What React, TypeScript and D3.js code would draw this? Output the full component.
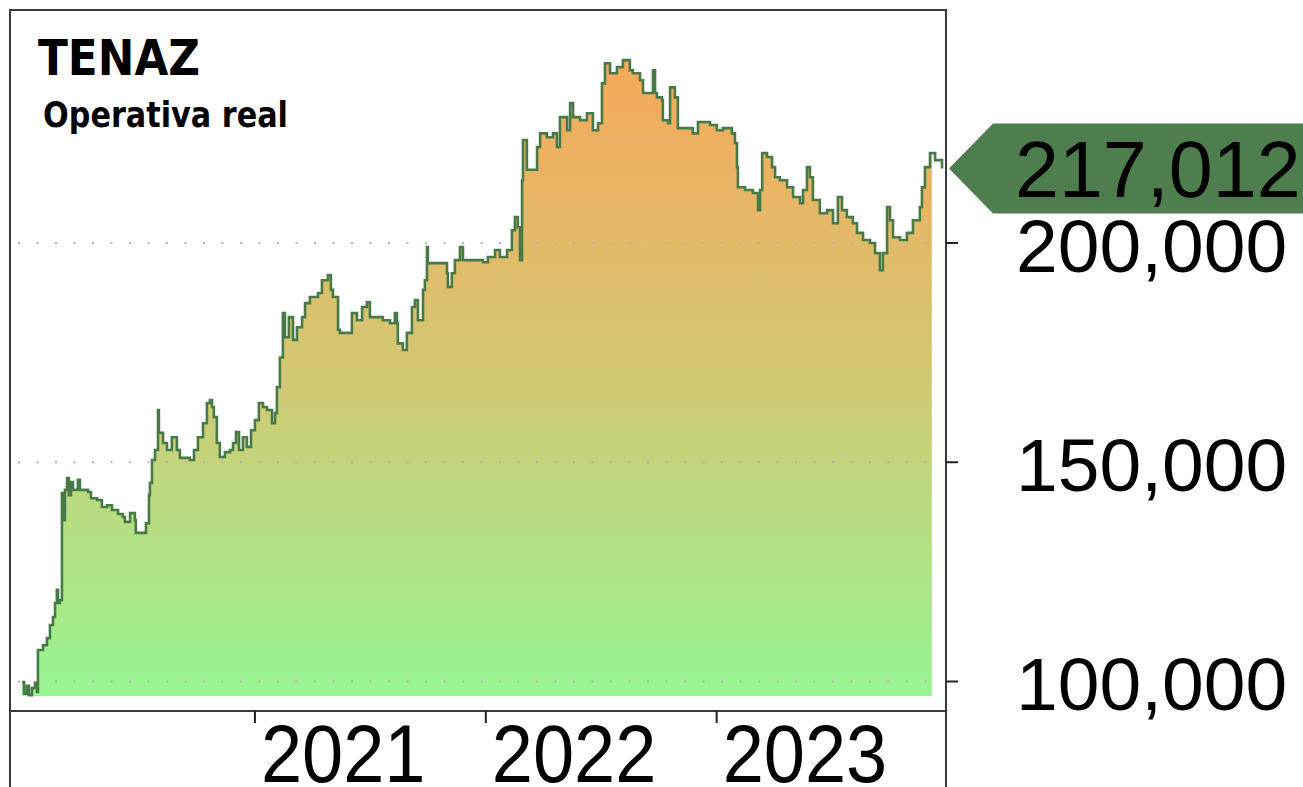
import React from "react";
import * as d3 from "d3";

// Equity curve: time in fractional years, value in account currency
const years = [
  2019.991, 2020.0, 2020.012, 2020.021, 2020.034, 2020.047, 2020.056, 2020.06, 2020.082, 2020.099,
  2020.112, 2020.125, 2020.134, 2020.142, 2020.147, 2020.155, 2020.164, 2020.168, 2020.177, 2020.186,
  2020.194, 2020.203, 2020.212, 2020.233, 2020.242, 2020.277, 2020.29, 2020.316, 2020.337, 2020.359,
  2020.381, 2020.407, 2020.428, 2020.437, 2020.459, 2020.48, 2020.484, 2020.515, 2020.528, 2020.541,
  2020.545, 2020.554, 2020.567, 2020.58, 2020.584, 2020.602, 2020.619, 2020.64, 2020.662, 2020.675,
  2020.718, 2020.736, 2020.753, 2020.775, 2020.792, 2020.805, 2020.814, 2020.822, 2020.835, 2020.848,
  2020.87, 2020.892, 2020.905, 2020.918, 2020.931, 2020.948, 2020.965, 2020.983, 2021.0, 2021.017,
  2021.035, 2021.052, 2021.074, 2021.087, 2021.095, 2021.108, 2021.121, 2021.13, 2021.147, 2021.165,
  2021.182, 2021.204, 2021.217, 2021.238, 2021.273, 2021.29, 2021.316, 2021.329, 2021.338, 2021.36,
  2021.368, 2021.412, 2021.42, 2021.442, 2021.464, 2021.485, 2021.498, 2021.528, 2021.554, 2021.585,
  2021.606, 2021.615, 2021.619, 2021.641, 2021.658, 2021.68, 2021.693, 2021.706, 2021.723, 2021.728,
  2021.736, 2021.745, 2021.749, 2021.771, 2021.801, 2021.832, 2021.836, 2021.853, 2021.866, 2021.888,
  2021.901, 2021.918, 2021.988, 2022.009, 2022.04, 2022.061, 2022.092, 2022.113, 2022.126, 2022.139,
  2022.148, 2022.157, 2022.161, 2022.178, 2022.204, 2022.222, 2022.235, 2022.265, 2022.291, 2022.308,
  2022.321, 2022.352, 2022.365, 2022.378, 2022.408, 2022.438, 2022.464, 2022.486, 2022.503, 2022.516,
  2022.538, 2022.568, 2022.594, 2022.624, 2022.637, 2022.668, 2022.681, 2022.711, 2022.724, 2022.733,
  2022.741, 2022.763, 2022.767, 2022.789, 2022.798, 2022.819, 2022.832, 2022.884, 2022.897, 2022.919,
  2022.971, 2023.001, 2023.027, 2023.066, 2023.079, 2023.088, 2023.092, 2023.123, 2023.157, 2023.179,
  2023.188, 2023.197, 2023.218, 2023.24, 2023.253, 2023.274, 2023.305, 2023.331, 2023.361, 2023.374,
  2023.391, 2023.404, 2023.417, 2023.447, 2023.478, 2023.504, 2023.525, 2023.543, 2023.564, 2023.59,
  2023.608, 2023.634, 2023.664, 2023.686, 2023.707, 2023.72, 2023.738, 2023.751, 2023.764, 2023.794,
  2023.824, 2023.85, 2023.88, 2023.889, 2023.902, 2023.924, 2023.946, 2023.976,
];
const equity = [
  99900, 97200, 99000, 96900, 98500, 99700, 97600, 107200, 108300, 109900,
  112900, 114700, 117900, 120900, 117900, 118600, 143000, 136800, 143700, 146400,
  142500, 145500, 143700, 146000, 143700, 143200, 141800, 141400, 139800, 140200,
  139100, 138200, 137500, 136400, 138400, 136800, 133900, 133900, 136100, 142500,
  145300, 150500, 152800, 161900, 156700, 154400, 152800, 155700, 152800, 151000,
  150500, 152800, 155700, 158900, 163500, 164200, 162600, 160300, 154400, 151200,
  152300, 152800, 154400, 156900, 152800, 155700, 153500, 157300, 159600, 163500,
  162600, 161900, 158900, 161200, 167100, 173900, 184000, 178500, 183100, 177900,
  180800, 183100, 186300, 187700, 188600, 191500, 192700, 189300, 187700, 180200,
  179500, 179500, 184000, 182400, 185400, 186500, 183100, 183100, 182400, 181700,
  184000, 181700, 177100, 175600, 179500, 185400, 187000, 182400, 182400, 189300,
  191500, 199100, 195400, 195400, 195400, 193100, 190000, 193100, 196100, 199100,
  196100, 196100, 195600, 196800, 198400, 196800, 198400, 202900, 205900, 203600,
  196100, 214300, 223500, 216700, 216700, 221900, 225000, 224100, 225000, 221900,
  228700, 225700, 231900, 228700, 228000, 229600, 225700, 227300, 236400, 241000,
  238700, 240100, 241700, 239400, 238700, 237100, 234200, 234200, 239400, 234200,
  233200, 232600, 228000, 227300, 235500, 233200, 226200, 226200, 225000, 227600,
  226900, 225700, 226200, 225000, 222800, 217300, 212700, 212100, 211400, 207500,
  212100, 220500, 219600, 217300, 215000, 214300, 212700, 210500, 209100, 212100,
  217300, 215000, 209800, 206800, 207500, 204500, 210500, 207500, 205900, 204500,
  202300, 200700, 200000, 197700, 193800, 197700, 208200, 205200, 201300, 200700,
  202300, 205200, 208200, 212700, 217300, 220500, 218900, 217012,
];

const yTicks = [100000, 150000, 200000];
const xTicks = [2021, 2022, 2023];
const title = "TENAZ";
const subtitle = "Operativa real";
const fillEndYear = 2023.932;
const fillBaseValue = 96700;

type Pt = { t: number; v: number };

export default function App() {
  const W = 1303;
  const H = 787;
  const plot = { left: 10, top: 10, right: 946, bottom: 711 };

  const x = d3.scaleLinear().domain([2019.991, 2023.976]).range([22, 942]);
  const y = d3.scaleLinear().domain([100000, 200000]).range([681.5, 243]);

  const pts: Pt[] = years.map((t, i) => ({ t, v: equity[i] }));
  const fillPts: Pt[] = pts.filter((p) => p.t <= fillEndYear);
  fillPts.push({ t: fillEndYear, v: fillPts[fillPts.length - 1].v });

  const line = d3
    .line<Pt>()
    .x((d) => x(d.t))
    .y((d) => y(d.v))
    .curve(d3.curveStepAfter);
  const area = d3
    .area<Pt>()
    .x((d) => x(d.t))
    .y0(y(fillBaseValue))
    .y1((d) => y(d.v))
    .curve(d3.curveStepAfter);

  const maxV = d3.max(equity) as number;
  const last = pts[pts.length - 1];
  const ly = y(last.v);
  const fmt = d3.format(",");

  const axisFont = "'Liberation Sans', Arial, sans-serif";
  const titleFont = "'DejaVu Sans', Verdana, sans-serif";

  return (
    <div style={{ position: "absolute", left: 0, top: 0 }}>
      <svg width={W} height={H} style={{ display: "block", background: "#fff" }}>
        <defs>
          <linearGradient
            id="eqGrad"
            gradientUnits="userSpaceOnUse"
            x1={0}
            x2={0}
            y1={y(maxV)}
            y2={y(fillBaseValue)}
          >
            <stop offset="0%" stopColor="#f7a85a" />
            <stop offset="50%" stopColor="#d2c874" />
            <stop offset="100%" stopColor="#97f592" />
          </linearGradient>
        </defs>

        <path d={area(fillPts) || ""} fill="url(#eqGrad)" stroke="none" />

        {yTicks.map((v) => (
          <line
            key={"g" + v}
            x1={18}
            x2={x(fillEndYear)}
            y1={y(v)}
            y2={y(v)}
            stroke="#b4b4b4"
            strokeWidth={2}
            strokeDasharray="2,16.5"
          />
        ))}

        <path d={line(pts) || ""} fill="none" stroke="#477a47" strokeWidth={2.6} strokeLinejoin="miter" />

        {/* frame */}
        <g stroke="#3a3a3a" strokeWidth={2} fill="none">
          <line x1={plot.left} x2={plot.left} y1={plot.top - 1} y2={H} />
          <line x1={plot.left} x2={plot.right} y1={plot.top} y2={plot.top} />
          <line x1={plot.right} x2={plot.right} y1={plot.top - 1} y2={H} />
          <line x1={plot.left} x2={plot.right} y1={plot.bottom} y2={plot.bottom} />
        </g>

        {/* x axis */}
        {xTicks.map((t) => (
          <g key={"x" + t}>
            <line x1={x(t)} x2={x(t)} y1={plot.bottom} y2={plot.bottom + 12} stroke="#222" strokeWidth={2} />
            <text
              transform={`translate(${x(t) + 6},${782}) scale(1,1.1)`}
              fontFamily={axisFont}
              fontSize={74}
              fill="#000"
            >
              {t}
            </text>
          </g>
        ))}

        {/* y axis */}
        {yTicks.map((v) => (
          <g key={"y" + v}>
            <line x1={plot.right} x2={plot.right + 12} y1={y(v)} y2={y(v)} stroke="#222" strokeWidth={2} />
            <text x={1016} y={y(v) + 28.5} fontFamily={axisFont} fontSize={75} fill="#000">
              {fmt(v)}
            </text>
          </g>
        ))}

        {/* last value label */}
        <polygon
          points={[
            [plot.right + 3, ly],
            [993, ly - 45],
            [W, ly - 45],
            [W, ly + 45],
            [993, ly + 45],
          ]
            .map((p) => p.join(","))
            .join(" ")}
          fill="#4e7d4e"
        />
        <text x={1015} y={ly + 29} fontFamily={axisFont} fontSize={79} fill="#000">
          {fmt(last.v)}
        </text>

        {/* titles */}
        <text
          x={38}
          y={75}
          fontFamily={titleFont}
          fontWeight="bold"
          fontSize={49}
          textLength={162}
          lengthAdjust="spacingAndGlyphs"
          fill="#000"
        >
          {title}
        </text>
        <text
          x={43}
          y={126.5}
          fontFamily={titleFont}
          fontWeight="bold"
          fontSize={35}
          textLength={245}
          lengthAdjust="spacingAndGlyphs"
          fill="#000"
        >
          {subtitle}
        </text>
      </svg>
    </div>
  );
}
